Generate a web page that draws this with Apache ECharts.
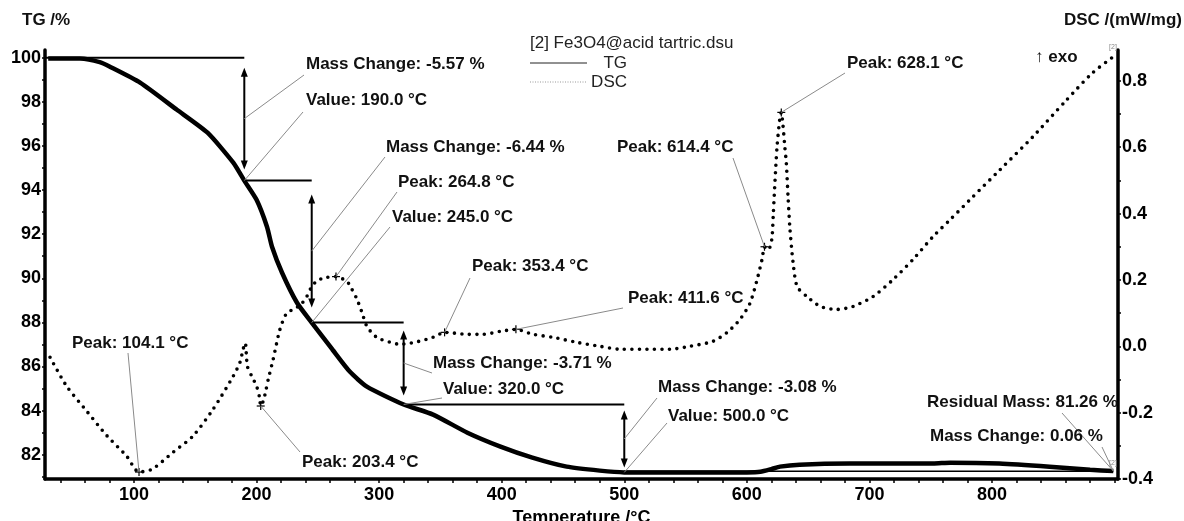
<!DOCTYPE html>
<html>
<head>
<meta charset="utf-8">
<script src="https://cdn.jsdelivr.net/npm/echarts@6/dist/echarts.min.js"></script>
<style>
  html, body { margin: 0; background: #fff; }
  #chart { width: 1184px; height: 521px; }
</style>
</head>
<body>
<div id="chart"></div>
<script>
// TG curve (mass %) vs temperature
const tgTemp = [30, 56, 72, 80, 105, 135, 160, 181, 190, 200, 208.5, 212.6, 220.8, 233, 245, 262, 276, 290, 320, 344, 372, 399, 425, 453, 480, 500, 562, 600, 611, 620, 627, 643, 684, 752, 766, 806, 847, 880, 899]
const tgMass = [99.97, 99.96, 99.8, 99.6, 98.87, 97.64, 96.6, 95.24, 94.43, 93.56, 92.34, 91.43, 90.25, 88.89, 87.99, 86.76, 85.77, 85.09, 84.28, 83.82, 83.0, 82.37, 81.87, 81.46, 81.28, 81.2, 81.19, 81.2, 81.23, 81.35, 81.46, 81.55, 81.6, 81.6, 81.64, 81.6, 81.46, 81.32, 81.26]

// DSC curve (mW/mg) vs temperature
const dscTemp = [31.5, 45, 62, 78, 94, 104.1, 115, 132, 148, 164.5, 181, 186.5, 189, 190.8, 192.5, 196, 200, 202.5, 203.4, 205.5, 207.5, 209.5, 213.5, 219, 224.5, 230, 236, 241, 245, 249.5, 256, 264.8, 273.8, 277.9, 282, 286, 290, 298, 309, 317, 329, 344, 353.4, 372, 385, 399, 411.6, 425.5, 442, 461, 480, 496.5, 518.6, 537, 553.6, 572.4, 584, 594.4, 602.6, 608.3, 612.4, 614.4, 616.5, 619, 620.6, 621.6, 623, 624.6, 626.8, 628.1, 629.5, 631, 632.2, 633.6, 635.2, 637.7, 641, 649, 660, 673.6, 686.6, 703, 719, 735.6, 752, 766, 784.5, 806.5, 833.5, 861, 882, 898.7]
const dscFlow = [-0.033, -0.12, -0.198, -0.27, -0.331, -0.379, -0.37, -0.319, -0.271, -0.19, -0.09, -0.048, -0.009, 0.01, -0.06, -0.09, -0.12, -0.155, -0.18, -0.165, -0.135, -0.1, -0.04, 0.05, 0.1, 0.111, 0.125, 0.15, 0.18, 0.198, 0.207, 0.21, 0.195, 0.171, 0.141, 0.102, 0.06, 0.027, 0.012, 0.006, 0.012, 0.027, 0.042, 0.036, 0.036, 0.045, 0.051, 0.036, 0.027, 0.012, 0.0, -0.009, -0.009, -0.009, 0.0, 0.015, 0.042, 0.081, 0.13, 0.2, 0.262, 0.30, 0.29, 0.30, 0.33, 0.40, 0.50, 0.60, 0.683, 0.705, 0.665, 0.60, 0.553, 0.451, 0.352, 0.253, 0.18, 0.15, 0.12, 0.111, 0.12, 0.15, 0.20, 0.262, 0.331, 0.382, 0.451, 0.532, 0.632, 0.743, 0.824, 0.872]

// mass-loss steps: end temperature, start level, mass change
const stepTemp = [190, 245, 320, 500]
const stepStartLevel = [100.0, 94.43, 87.99, 84.28]
const stepChange = [-5.57, -6.44, -3.71, -3.08]
const residualMass = 81.26
const finalChange = 0.06
const dscPeaks = [104.1, 203.4, 264.8, 353.4, 411.6, 614.4, 628.1]

const xLabels = [100, 200, 300, 400, 500, 600, 700, 800]
const xTickVals = []
for (let t = 40; t <= 900; t += 20) xTickVals.push(t)
const tgLabels = [82, 84, 86, 88, 90, 92, 94, 96, 98, 100]
const tgTickVals = [81, 82, 83, 84, 85, 86, 87, 88, 89, 90, 91, 92, 93, 94, 95, 96, 97, 98, 99, 100]
const dscLabels = [-0.4, -0.2, 0.0, 0.2, 0.4, 0.6, 0.8]
const dscTickVals = [-0.4, -0.3, -0.2, -0.1, 0.0, 0.1, 0.2, 0.3, 0.4, 0.5, 0.6, 0.7, 0.8]

const X_MIN = 27.4, X_MAX = 902.8
const FONT = '"Liberation Sans", Arial, sans-serif'
const tickLabel = { color: '#000', fontWeight: 'bold', fontSize: 18, fontFamily: FONT }

const chart = echarts.init(document.getElementById('chart'), null, { renderer: 'canvas' })

chart.setOption({
  animation: false,
  grid: { left: 45, right: 66, top: 50, bottom: 42, outerBoundsMode: 'none', containLabel: false },
  xAxis: {
    type: 'value', min: X_MIN, max: X_MAX,
    name: 'Temperature /°C', nameLocation: 'middle', nameGap: 36,
    nameTextStyle: { color: '#000', fontWeight: 'bold', fontSize: 18, fontFamily: FONT, verticalAlign: 'middle' },
    axisLine: { onZero: false, lineStyle: { color: '#000', width: 3.5 } },
    axisTick: { customValues: xTickVals, length: 4, lineStyle: { color: '#000', width: 1.5 } },
    axisLabel: Object.assign({ customValues: xLabels, margin: 7 }, tickLabel),
    splitLine: { show: false }
  },
  yAxis: [
    {
      type: 'value', min: 80.9, max: 100.35, position: 'left',
      axisLine: { show: true, lineStyle: { color: '#000', width: 3.5 } },
      axisTick: { show: true, customValues: tgTickVals, length: 3, lineStyle: { color: '#000', width: 1.5 } },
      axisLabel: Object.assign({ customValues: tgLabels, margin: 4 }, tickLabel),
      splitLine: { show: false }
    },
    {
      type: 'value', min: -0.4, max: 0.893, position: 'right',
      axisLine: { show: true, lineStyle: { color: '#000', width: 3.5 } },
      axisTick: { show: true, customValues: dscTickVals, length: 3, lineStyle: { color: '#000', width: 1.5 } },
      axisLabel: Object.assign({ customValues: dscLabels, margin: 4, formatter: v => v.toFixed(1) }, tickLabel),
      splitLine: { show: false }
    }
  ],
  series: [
    {
      name: 'TG', type: 'line', yAxisIndex: 0,
      data: tgTemp.map((t, i) => [t, tgMass[i]]),
      showSymbol: false, smooth: 0.2,
      lineStyle: { color: '#000', width: 4.5 }, z: 5
    },
    {
      name: 'TG base', type: 'line', yAxisIndex: 0,
      data: [[stepTemp[3], 81.25], [tgTemp[tgTemp.length - 1], 81.25]],
      showSymbol: false, lineStyle: { color: '#000', width: 1.5 }, z: 4
    },
    {
      name: 'DSC', type: 'line', yAxisIndex: 1,
      data: dscTemp.map((t, i) => [t, dscFlow[i]]),
      showSymbol: false, smooth: 0.25,
      lineStyle: { color: '#000', width: 3.6, type: [0, 7.5], cap: 'round' }, z: 3
    }
  ]
})

// annotations drawn through the axes' scales
const tgPx = (t, v) => chart.convertToPixel({ xAxisIndex: 0, yAxisIndex: 0 }, [t, v])
const dscPx = t => chart.convertToPixel({ xAxisIndex: 0, yAxisIndex: 1 }, [t, dscFlow[dscTemp.indexOf(t)]])
const tgAt = t => tgPx(t, tgMass[tgTemp.indexOf(t)])

const g = []
const line = (a, b, w, c, dash) => g.push({ type: 'line', z: 10, shape: { x1: a[0], y1: a[1], x2: b[0], y2: b[1] }, style: { stroke: c || '#000', lineWidth: w || 1, lineDash: dash || null } })
const text = (s, x, y, opts) => g.push({ type: 'text', z: 12, x: x, y: y, style: Object.assign({ text: s, fill: '#111', font: 'bold 17px ' + FONT, verticalAlign: 'middle', align: 'left' }, opts || {}) })

// step level lines and double arrows
const arrowGap = [[11, 12], [15, 16], [9, 10], [7, 6]]
const arrowMid = []
stepTemp.forEach((t, i) => {
  const prevT = i === 0 ? X_MIN : stepTemp[i - 1]
  const a = tgPx(prevT, stepStartLevel[i]), b = tgPx(t, stepStartLevel[i])
  line(a, b, 2)
  const endLevel = stepStartLevel[i] + stepChange[i]
  const top = b[1] + arrowGap[i][0], bot = tgPx(t, endLevel)[1] - arrowGap[i][1]
  const x = b[0]
  line([x, top + 3], [x, bot - 3], 2)
  g.push({ type: 'polygon', z: 10, shape: { points: [[x, top - 1], [x - 3.5, top + 8], [x + 3.5, top + 8]] }, style: { fill: '#000' } })
  g.push({ type: 'polygon', z: 10, shape: { points: [[x, bot + 1], [x - 3.5, bot - 8], [x + 3.5, bot - 8]] }, style: { fill: '#000' } })
  arrowMid.push([x, (top + bot) / 2])
})

// peak crosses
dscPeaks.forEach(t => {
  const p = dscPx(t)
  line([p[0] - 4, p[1]], [p[0] + 4, p[1]], 1.2)
  line([p[0], p[1] - 4], [p[0], p[1] + 4], 1.2)
})

const tgEnd = tgPx(tgTemp[tgTemp.length - 1], tgMass[tgMass.length - 1])
const notes = [
  ['Mass Change: ' + stepChange[0].toFixed(2) + ' %', 306, 64, [304, 75], arrowMid[0]],
  ['Value: ' + stepTemp[0].toFixed(1) + ' °C', 306, 100, [303, 112], tgAt(190)],
  ['Mass Change: ' + stepChange[1].toFixed(2) + ' %', 386, 147, [385, 157], arrowMid[1]],
  ['Peak: ' + dscPeaks[2].toFixed(1) + ' °C', 398, 182, [397, 192], dscPx(264.8)],
  ['Value: ' + stepTemp[1].toFixed(1) + ' °C', 392, 217, [390, 227], tgAt(245)],
  ['Peak: ' + dscPeaks[3].toFixed(1) + ' °C', 472, 266, [470, 278], dscPx(353.4)],
  ['Peak: ' + dscPeaks[4].toFixed(1) + ' °C', 628, 298, [623, 308], dscPx(411.6)],
  ['Mass Change: ' + stepChange[2].toFixed(2) + ' %', 433, 363, [432, 373], arrowMid[2]],
  ['Value: ' + stepTemp[2].toFixed(1) + ' °C', 443, 389, [442, 398], tgAt(320)],
  ['Mass Change: ' + stepChange[3].toFixed(2) + ' %', 658, 387, [657, 398], arrowMid[3]],
  ['Value: ' + stepTemp[3].toFixed(1) + ' °C', 668, 416, [667, 423], tgAt(500)],
  ['Peak: ' + dscPeaks[0].toFixed(1) + ' °C', 72, 343, [128, 353], dscPx(104.1)],
  ['Peak: ' + dscPeaks[1].toFixed(1) + ' °C', 302, 462, [300, 452], dscPx(203.4)],
  ['Peak: ' + dscPeaks[5].toFixed(1) + ' °C', 617, 147, [733, 158], dscPx(614.4)],
  ['Peak: ' + dscPeaks[6].toFixed(1) + ' °C', 847, 63, [845, 73], dscPx(628.1)],
  ['Residual Mass: ' + residualMass.toFixed(2) + ' %', 927, 402, [1062, 413], tgEnd],
  ['Mass Change: ' + finalChange.toFixed(2) + ' %', 930, 436, [1102, 447], tgEnd]
]
notes.forEach(n => {
  line(n[3], n[4], 1, '#8a8a8a')
  text(n[0], n[1], n[2])
})

// titles, legend
text('TG /%', 22, 20, { font: 'bold 17px ' + FONT })
text('DSC /(mW/mg)', 1182, 20, { font: 'bold 17px ' + FONT, align: 'right' })
text('\u2191 exo', 1035, 57, { font: 'bold 17px ' + FONT })
text('[2] Fe3O4@acid tartric.dsu', 530, 43, { font: '17px ' + FONT, fill: '#222' })
line([530, 63], [587, 63], 1, '#222')
text('TG', 627, 63, { font: '17px ' + FONT, fill: '#222', align: 'right' })
line([530, 82], [587, 82], 1, '#999', [1, 1.5])
text('DSC', 627, 82, { font: '17px ' + FONT, fill: '#222', align: 'right' })
text('[2]', 1113, 47, { font: '7px ' + FONT, fill: '#888', align: 'center' })
text('[2]', 1113, 463, { font: '7px ' + FONT, fill: '#888', align: 'center' })

chart.setOption({ graphic: g })
window.addEventListener('resize', chart.resize)
</script>
</body>
</html>
